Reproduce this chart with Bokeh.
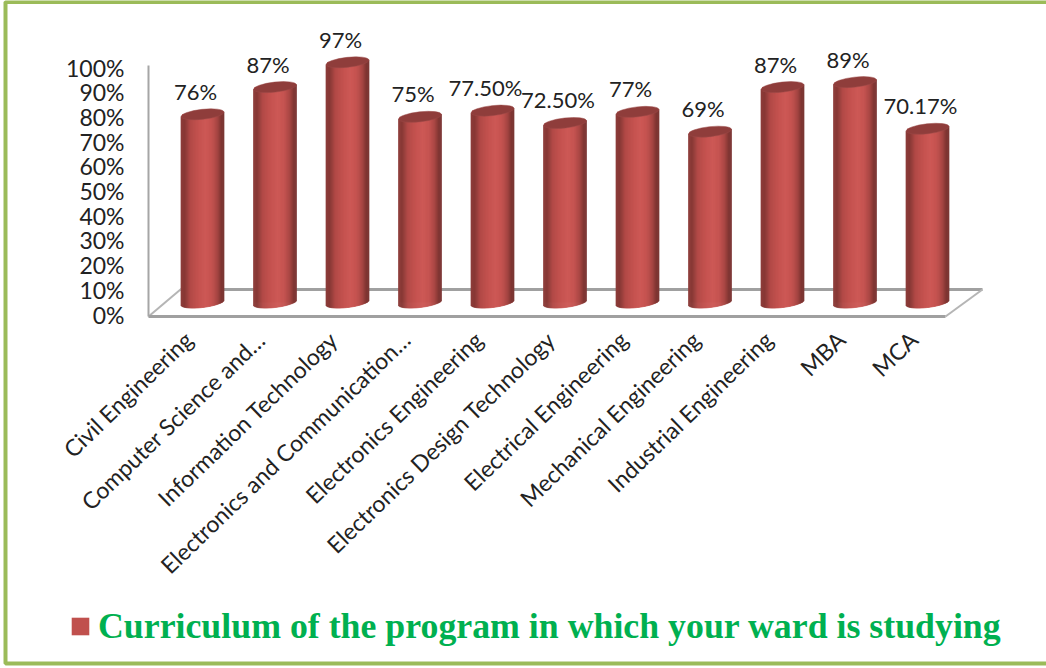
import math
from bokeh.plotting import figure
from bokeh.models import Range1d, LinearAxis, FixedTicker, Legend, LegendItem, BoxAnnotation
from bokeh.core.properties import value
from bokeh.embed import file_html
from bokeh.resources import INLINE

categories = ["Civil Engineering", "Computer Science and\u2026", "Information Technology",
              "Electronics and Communication\u2026", "Electronics Engineering",
              "Electronics Design Technology", "Electrical Engineering",
              "Mechanical Engineering", "Industrial Engineering", "MBA", "MCA"]
values = [76, 87, 97, 75, 77.5, 72.5, 77, 69, 87, 89, 70.17]
value_labels = ["76%", "87%", "97%", "75%", "77.50%", "72.50%", "77%", "69%", "87%", "89%", "70.17%"]
y_ticks = [0, 10, 20, 30, 40, 50, 60, 70, 80, 90, 100]
series_name = "Curriculum of the program in which your ward is studying"

# layout, in pixels of the 1046x668 reference
W, H = 1046, 668
WALL_X, FLOOR_Y = 148, 316
X0, DX = 202, 72.5           # first cylinder centre, spacing
AX_ZERO, SCALE = 314, 2.47   # axis: value 0 pixel, px per unit
BAR_ZERO, BAR_SCALE = 302, 2.476
LABEL_SHIFT = -14
BAR_W, ELL_H, TILT = 43, 10, 2.5

p = figure(width=W, height=H, output_backend="svg", toolbar_location=None,
           x_range=Range1d(-X0 / DX, (W - X0) / DX),
           y_range=Range1d((AX_ZERO - H) / SCALE, AX_ZERO / SCALE),
           x_axis_type=None, y_axis_type=None,
           min_border=0, background_fill_color="white", border_fill_color="white")
p.outline_line_color = None
p.grid.visible = False

p.extra_y_ranges["bars"] = Range1d((BAR_ZERO - H) / BAR_SCALE, BAR_ZERO / BAR_SCALE)
p.extra_x_ranges["labels"] = Range1d((-X0 - LABEL_SHIFT) / DX, (W - X0 - LABEL_SHIFT) / DX)

floor_back = (AX_ZERO - 289) / SCALE
floor_front = (AX_ZERO - FLOOR_Y) / SCALE

# value axis (the chart's left wall)
yax = LinearAxis(ticker=FixedTicker(ticks=y_ticks),
                 fixed_location=(WALL_X - X0) / DX,
                 bounds=(floor_front, (AX_ZERO - 65) / SCALE),
                 major_label_overrides={t: f"{t}%" for t in y_ticks},
                 major_tick_line_color=None, minor_tick_line_color=None,
                 axis_line_color="#A6A6A6", axis_line_width=2,
                 major_label_standoff=18,
                 major_label_text_font="Lato", major_label_text_font_size="23px",
                 major_label_text_color="#222222")
p.add_layout(yax, "left")

# category axis (front edge of the floor)
xax = LinearAxis(x_range_name="labels", ticker=FixedTicker(ticks=list(range(len(categories)))),
                 fixed_location=floor_front,
                 major_label_overrides={i: c for i, c in enumerate(categories)},
                 major_tick_line_color=None, minor_tick_line_color=None,
                 axis_line_color="#A0A0A0", axis_line_width=3,
                 bounds=((WALL_X - X0 - LABEL_SHIFT) / DX, (945 - X0 - LABEL_SHIFT) / DX),
                 major_label_orientation=math.radians(44),
                 major_label_standoff=13,
                 major_label_text_font="Lato", major_label_text_font_size="23px",
                 major_label_text_color="#222222")
p.add_layout(xax, "below")

# floor
p.line([(180 - X0) / DX, (982 - X0) / DX], [floor_back, floor_back], line_color="#A0A0A0", line_width=3)
p.line([(148 - X0) / DX, (180 - X0) / DX], [floor_front, floor_back], line_color="#B5B5B5", line_width=2)
p.line([(945 - X0) / DX, (982 - X0) / DX], [floor_front, floor_back], line_color="#B5B5B5", line_width=2)

# cylinders: a base series, then shading strips, then the top ellipse
xs = list(range(len(values)))
base = p.vbar(x=xs, top=values, bottom=0, width=(BAR_W - 2) / DX, fill_color="#C0504D",
              line_color=None, y_range_name="bars")

ramp_pos = [-1.0, -0.82, -0.55, -0.2, 0.15, 0.45, 0.7, 0.88, 1.0]
ramp_col = [(0x8E, 0x3D, 0x3A), (0x86, 0x38, 0x35), (0xB2, 0x4A, 0x47), (0xC4, 0x52, 0x4F),
            (0xCD, 0x59, 0x56), (0xC4, 0x53, 0x50), (0xA8, 0x46, 0x43), (0x80, 0x35, 0x32), (0x7C, 0x38, 0x36)]


def ramp(u):
    for k in range(len(ramp_pos) - 1):
        if u <= ramp_pos[k + 1]:
            t = (u - ramp_pos[k]) / (ramp_pos[k + 1] - ramp_pos[k])
            c = [round(a + (b - a) * t) for a, b in zip(ramp_col[k], ramp_col[k + 1])]
            return "#%02x%02x%02x" % tuple(c)
    return "#%02x%02x%02x" % ramp_col[-1]


N = 43
sl, sr, sb, st, sc = [], [], [], [], []
half = BAR_W / 2
for i, v in enumerate(values):
    for k in range(N):
        a, b = -1 + 2 * k / N, -1 + 2 * (k + 1) / N
        u = (a + b) / 2
        sl.append(i + a * half / DX)
        sr.append(i + b * half / DX)
        sb.append((TILT * u - ELL_H / 2 * math.sqrt(1 - u * u)) / BAR_SCALE)
        st.append(v + TILT * u / BAR_SCALE)
        sc.append(ramp(u))
p.quad(left=sl, right=sr, bottom=sb, top=st, fill_color=sc, line_color=sc, line_width=0.7,
       y_range_name="bars")
p.ellipse(x=xs, y=values, width=BAR_W, height=ELL_H, angle=0.11,
          width_units="screen", height_units="screen",
          fill_color="#8F3D3B", line_color="#9B4A48", line_width=0.5, y_range_name="bars")

# value labels
p.text(x=xs, y=values, text=value_labels, x_offset=-7, y_offset=-23,
       text_align="center", text_baseline="middle",
       text_font=value("Lato"), text_font_size="22px", text_color="#222222",
       y_range_name="bars")

# legend
legend = Legend(items=[LegendItem(label=series_name, renderers=[base])],
                location=(69, 21), orientation="horizontal",
                background_fill_alpha=0, border_line_color=None,
                glyph_width=22, glyph_height=22, label_standoff=7, padding=8, margin=0,
                label_text_font="Liberation Serif", label_text_font_style="bold",
                label_text_font_size="35.8px", label_text_color="#00B050")
p.add_layout(legend, "center")

# outer green frame: left, top and bottom edges show, the right edge runs off the picture
frame = BoxAnnotation(left=5, right=W + 10, top=5, bottom=666.5,
                      left_units="screen", right_units="screen", top_units="screen", bottom_units="screen",
                      fill_alpha=0, line_color="#9BBB59", line_alpha=1, line_width=4, level="overlay")
p.add_layout(frame)

open("out.html", "w").write(file_html(p, INLINE))
